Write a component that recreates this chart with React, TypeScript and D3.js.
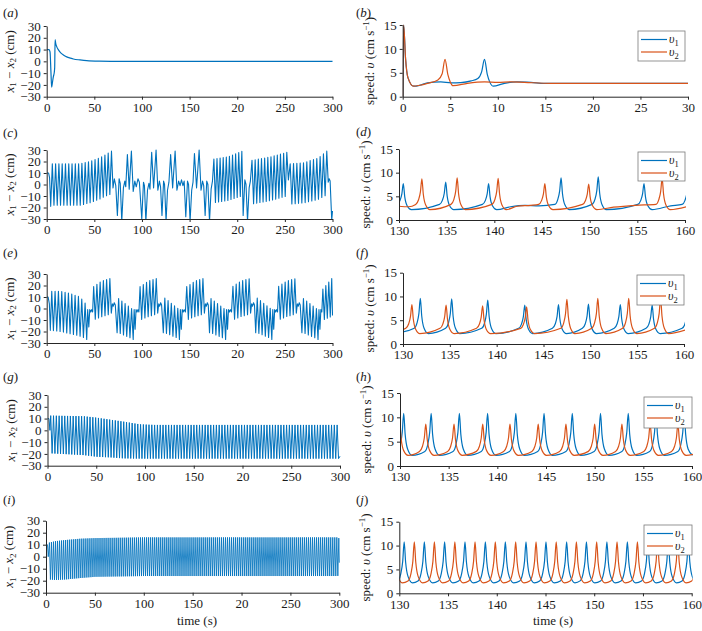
import { useEffect, useRef } from 'react'
import * as d3 from 'd3'

type Pt = [number, number]
type Burst = { start: number; cycles: number; period: number; kt: number[]; hi: number[]; lo: number[] }

const BLUE = '#0072bd'
const ORANGE = '#d95319'
const FONT = "'Liberation Serif', 'Times New Roman', serif"

// ticks
const dispTicks = [-30, -20, -10, 0, 10, 20, 30]
const longTimeTicks = [0, 50, 100, 150, 200, 250, 300]
const longTimeLabels = ['0', '50', '100', '150', '20', '250', '300'] // "20" as printed in the figure
const speedTicks = [0, 5, 10, 15]
const shortTimeTicks = [0, 5, 10, 15, 20, 25, 30]
const windowTicks = [130, 135, 140, 145, 150, 155, 160]

// (a) x1 - x2, decays to zero
const aPts: Pt[] = [[0, 10], [2.5, 10], [3.5, 8], [4.5, -10], [5.2, -22], [6, -18], [7, -13], [8, -9], [8.4, -5], [8.8, 18.5], [9.5, 15], [10.5, 12.5], [12.5, 9.5], [15, 7], [17.5, 5.4], [21, 3.8], [25, 2.7], [28, 2], [35, 1.2], [42, 0.6], [55, 0.2], [80, 0], [300, 0]]

// (b) speeds 0-30 s
const bV1: Pt[] = [[0, 0], [0.1, 15], [0.3, 8], [0.55, 4], [1.15, 2.2], [1.8, 2.4], [2.6, 2.9], [4, 3.1], [5.1, 2.9], [6.1, 2.95], [7.2, 3.3], [7.9, 3.8], [8.3, 5.2], [8.6, 7.8], [8.9, 4.6], [9.15, 3.1], [9.5, 2.2], [10.7, 2.8], [12, 3.1], [13.5, 3.0], [14.9, 2.8], [20, 2.8], [30, 2.8]]
const bV2: Pt[] = [[0, 0], [0.1, 15], [0.3, 8], [0.55, 4], [1.15, 2.2], [1.8, 2.4], [2.6, 2.8], [3.7, 3.5], [4.15, 4.8], [4.45, 7.8], [4.75, 4.6], [5.0, 3.1], [5.3, 2.3], [6.8, 2.8], [8.6, 3.1], [10, 3.0], [11.4, 3.1], [12.8, 3.0], [15.6, 2.8], [20, 2.8], [30, 2.8]]

// (c) irregular bursting
const cPts: Pt[] = [
  [0, 10], [2, 10], [3, 6], [4.2, -19],
  [69.6, -3], [71, 5], [72.5, -1], [74.2, -27], [76, 5], [77.2, 1], [78.8, -32], [80.5, -3], [82, 3], [83, -2], [84.7, 26], [86.6, -4], [88.9, 29], [90.8, -6], [92.5, 3], [94, -2], [95.8, 5], [97.3, 2], [99.8, -30], [101.6, 2], [102.6, -1], [104.1, -32], [105.8, -5], [107.3, 1], [108.4, -4], [110.2, 28], [112.2, -3], [114.8, 30], [116.7, -5], [118.3, 3], [119.5, -2], [121, -27], [122.7, 3], [123.7, 0], [125.3, -32], [126.8, -5], [128.3, 2], [130.1, 26], [132.2, -3], [134.8, 29], [136.7, -5], [138.5, 3], [140, -1], [141.5, 4], [143, -1], [144.3, 3], [146, -28], [147.8, 3], [148.9, 0], [150.5, -32], [152.2, -5], [153.6, 2], [155.1, 27], [157.3, -3], [160, 30], [162, -5], [163.6, 3], [164.8, -1], [166.3, -27], [168, 3], [169.2, 0], [170.9, -32], [172.6, -4], [174, 3],
  [206.2, -27], [208, 4], [209.2, 0], [210.8, -32], [212.5, -3], [213.8, 3],
  [253.7, 4],
  [295.5, 2], [296.5, 5], [297.5, 3], [299.2, -31], [300, -23],
]
const cBursts: Burst[] = [
  { start: 5.9, cycles: 19, period: 3.45, kt: [5, 35, 45, 55, 62, 68], hi: [18, 18, 20, 23, 26, 29], lo: [-18, -18, -16, -13, -10, -8] },
  { start: 175.5, cycles: 10, period: 3.26, kt: [175, 190, 205], hi: [22, 24, 29], lo: [-16, -14, -10] },
  { start: 215.5, cycles: 12, period: 3.32, kt: [215, 235, 252], hi: [21, 24, 28], lo: [-17, -14, -10] },
  { start: 255.6, cycles: 12, period: 3.49, kt: [255, 270, 285, 294], hi: [18, 19, 23, 29], lo: [-17, -16, -13, -9] },
]

// (e) alternating up / down bursts
const ePts: Pt[] = [
  [0, 10], [1.5, 10], [2.8, 4], [3.8, -19],
  [42, -27], [43, -1], [44.2, -16], [45.2, -1], [46.2, -3], [47.2, -1], [48.2, -3],
  [67.8, -4], [68.9, 4], [69.9, 2], [70.9, 5], [72, 3], [73.9, -21],
  [90.8, -27], [91.8, -1], [92.8, -18], [93.8, -1], [94.8, -3], [95.8, -1], [96.8, -3],
  [116.5, -4], [117.6, 4], [118.6, 2], [119.6, 5], [120.6, 3], [122.4, -21],
  [139.3, -27], [140.3, -1], [141.3, -18], [142.3, -1], [143.3, -3], [144.3, -1], [145.6, -3],
  [165.5, -4], [166.6, 4], [167.6, 2], [168.6, 5], [169.6, 3], [170.9, -21],
  [187.8, -27], [188.8, -1], [189.8, -18], [190.8, -1], [191.8, -3], [192.8, -1], [194, -3],
  [214, -4], [215.1, 4], [216.1, 2], [217.1, 5], [218.1, 3], [219.4, -21],
  [236.3, -27], [237.3, -1], [238.3, -18], [239.3, -1], [240.3, -3], [241.3, -1], [242.3, -3],
  [262, -4], [263.1, 4], [264.1, 2], [265.1, 5], [266.1, 3], [267.9, -21],
  [284.8, -27], [285.8, -1], [286.8, -18], [287.8, -1], [288.8, -3],
  [300, -6],
]
const eBursts: Burst[] = [
  { start: 5.3, cycles: 11, period: 3.5, kt: [5, 15, 25, 35, 41], hi: [15, 15, 13, 10, 4], lo: [-19, -20, -22, -24, -26] },
  { start: 49.3, cycles: 6, period: 3.4, kt: [49, 58, 66], hi: [19, 24, 26], lo: [-10, -7, -5] },
  { start: 75.5, cycles: 5, period: 3.4, kt: [75, 89], hi: [9, 0], lo: [-21, -26] },
  { start: 98, cycles: 6, period: 3.4, kt: [98, 107, 115], hi: [19, 24, 26], lo: [-10, -7, -5] },
  { start: 124, cycles: 5, period: 3.4, kt: [124, 138], hi: [9, 0], lo: [-21, -26] },
  { start: 147, cycles: 6, period: 3.4, kt: [147, 156, 164], hi: [19, 24, 26], lo: [-10, -7, -5] },
  { start: 172.5, cycles: 5, period: 3.4, kt: [172, 186], hi: [9, 0], lo: [-21, -26] },
  { start: 195.5, cycles: 6, period: 3.4, kt: [195, 204, 213], hi: [19, 24, 26], lo: [-10, -7, -5] },
  { start: 221, cycles: 5, period: 3.4, kt: [221, 235], hi: [9, 0], lo: [-21, -26] },
  { start: 243.5, cycles: 6, period: 3.4, kt: [243, 252, 261], hi: [19, 24, 26], lo: [-10, -7, -5] },
  { start: 269.5, cycles: 5, period: 3.4, kt: [269, 283], hi: [9, 0], lo: [-21, -26] },
  { start: 289.9, cycles: 4, period: 3.1, kt: [290, 299], hi: [17, 26], lo: [-10, -7] },
]

// (g) steady oscillation, envelope
const gPts: Pt[] = [[0, 10], [1.5, 10], [2.5, 0], [298.5, -24], [300, -22]]
const gBursts: Burst[] = [
  { start: 3.3, cycles: 103, period: 2.88, kt: [3, 37, 50, 65, 78, 95, 110, 300], hi: [12.5, 12, 10.8, 9, 7.4, 5.1, 4.6, 4.6], lo: [-19.5, -21, -22.4, -23, -23.8, -24, -24, -24] },
]

// (i) steady oscillation
const iPts: Pt[] = [[0, 10], [1.5, 10], [2.3, 0], [298.5, -16], [299.5, 15.5], [300, -5]]
const iBursts: Burst[] = [
  { start: 3.5, cycles: 143, period: 2.07, kt: [3, 10, 20, 35, 50, 100, 300], hi: [11.7, 13, 13.9, 15, 15.5, 16.1, 16.1], lo: [-19, -19.4, -19, -17.8, -16.8, -16.1, -16.1] },
]

// speed windows 130-160 s: peak times and heights
const dV1Peaks = [130.45, 134.9, 139.4, 147.0, 150.9, 155.7, 160.35]
const dV1Heights = [7.7, 8.0, 7.7, 8.9, 9.1, 7.7, 8.0]
const dV1Extra: Pt[] = [[128.5, 2.4], [141.7, 2.8], [143.2, 3.1], [144.7, 3.0], [158.5, 3.0]]
const dV2Peaks = [132.4, 136.1, 140.4, 145.3, 149.9, 157.6]
const dV2Heights = [8.7, 8.9, 8.8, 7.7, 7.6, 8.8]
const dV2Extra: Pt[] = [[129.5, 3.0], [131.0, 2.8], [142.4, 2.9], [143.8, 3.1], [152.5, 2.7], [154.8, 3.1], [160.3, 2.9]]

const fV1Peaks = [131.85, 135.2, 139.05, 143.0, 146.6, 149.8, 153.2, 156.6, 160.45]
const fV1Heights = [9.6, 9.5, 9.25, 8.2, 8.3, 8.4, 8.3, 8.2, 8.5]
const fV1Extra: Pt[] = [[129.3, 2.3]]
const fV2Peaks = [130.95, 134.6, 138.5, 143.2, 147.5, 150.8, 154.1, 157.5]
const fV2Heights = [8.3, 8.2, 8.0, 7.8, 9.4, 9.6, 9.6, 9.6]
const fV2Extra: Pt[] = [[129.5, 2.8], [160.4, 3.1]]

const hV1Peaks = [130.38, 133.2, 136.1, 139.0, 141.9, 144.8, 147.7, 150.6, 153.45, 156.3, 159.2]
const hV1Heights = [10.8, 10.8, 10.8, 10.8, 10.8, 10.8, 10.8, 10.8, 10.8, 10.8, 10.8]
const hV2Peaks = [129.98, 132.65, 135.55, 138.5, 141.3, 144.2, 147.05, 150.0, 152.8, 155.7, 158.55]
const hV2Heights = [8.6, 8.6, 8.6, 8.6, 8.6, 8.6, 8.6, 8.6, 8.6, 8.6, 8.6]
const hV2Extra: Pt[] = [[160.5, 2.6]]

const jV1Peaks = [130.5, 132.57, 134.65, 136.74, 138.83, 140.88, 143.0, 145.05, 147.17, 149.2, 151.3, 153.4, 155.5, 157.6, 159.66]
const jV1Heights = [10.8, 10.8, 10.8, 10.8, 10.8, 10.8, 10.8, 10.8, 10.8, 10.8, 10.8, 10.8, 10.8, 10.8, 10.8]
const jV2Peaks = [129.46, 131.54, 133.6, 135.7, 137.77, 139.85, 141.94, 144.03, 146.1, 148.17, 150.25, 152.34, 154.43, 156.5, 158.57, 160.65]
const jV2Heights = [10.8, 10.8, 10.8, 10.8, 10.8, 10.8, 10.8, 10.8, 10.8, 10.8, 10.8, 10.8, 10.8, 10.8, 10.8, 10.8]

// oscillation burst -> alternating peak / trough points
function burstPoints(b: Burst): Pt[] {
  const hiAt = d3.scaleLinear(b.kt, b.hi).clamp(true)
  const loAt = d3.scaleLinear(b.kt, b.lo).clamp(true)
  const pts: Pt[] = []
  for (let i = 0; i < b.cycles; i++) {
    const tp = b.start + i * b.period
    pts.push([tp, hiAt(tp)])
    if (i < b.cycles - 1) {
      const tl = tp + b.period / 2
      pts.push([tl, loAt(tl)])
    }
  }
  return pts
}

function withBursts(explicit: Pt[], bursts: Burst[]): Pt[] {
  return [...explicit, ...bursts.flatMap(burstPoints)].sort((a, b) => a[0] - b[0])
}

// speed spikes: sharp rise to the read peak, fast fall to the trough level
function spikes(peaks: number[], heights: number[], extra: Pt[], pre: number, low: number): Pt[] {
  const pts: Pt[] = [...extra]
  peaks.forEach((tp, i) => {
    const h = heights[i]
    pts.push(
      [tp - 0.65, pre], [tp - 0.35, pre + (h - pre) * 0.18], [tp - 0.15, pre + (h - pre) * 0.5], [tp, h],
      [tp + 0.15, low + (h - low) * 0.5], [tp + 0.4, low + (h - low) * 0.15], [tp + 0.85, low],
    )
  })
  return pts.sort((a, b) => a[0] - b[0])
}

type Series = { pts: Pt[]; color: string; width: number; curve: d3.CurveFactory }
type Panel = {
  id: string; x0: number; x1: number; y0: number; y1: number
  xDomain: [number, number]; yDomain: [number, number]
  xTicks: number[]; xLabels?: string[]; yTicks: number[]
  series: Series[]; label: [number, number]; legend?: { x: number; y: number; w: number; h: number }
  kind: 'disp' | 'speed'; xTitle?: number
}

function drawPanel(svg: d3.Selection<SVGSVGElement, unknown, null, undefined>, p: Panel) {
  const x = d3.scaleLinear(p.xDomain, [p.x0, p.x1])
  const y = d3.scaleLinear(p.yDomain, [p.y1, p.y0])
  const clipId = 'clip-' + p.id
  svg.append('clipPath').attr('id', clipId)
    .append('rect').attr('x', p.x0).attr('y', p.y0 - 1).attr('width', p.x1 - p.x0 + 1).attr('height', p.y1 - p.y0 + 1)

  const g = svg.append('g')
  p.series.forEach(s => {
    const line = d3.line<Pt>().x(d => x(d[0])).y(d => y(d[1])).curve(s.curve)
    g.append('path')
      .attr('clip-path', `url(#${clipId})`)
      .attr('d', line(s.pts))
      .attr('fill', 'none')
      .attr('stroke', s.color)
      .attr('stroke-width', s.width)
      .attr('stroke-linejoin', 'round')
  })

  const xAxis = g.append('g').attr('transform', `translate(0,${p.y1})`)
    .call(d3.axisBottom(x).tickValues(p.xTicks)
      .tickFormat((d, i) => (p.xLabels ? p.xLabels[i] : String(d)))
      .tickSize(3).tickSizeOuter(0).tickPadding(3))
  const yAxis = g.append('g').attr('transform', `translate(${p.x0},0)`)
    .call(d3.axisLeft(y).tickValues(p.yTicks).tickFormat(d3.format('d'))
      .tickSize(3).tickSizeOuter(0).tickPadding(3))
  ;[xAxis, yAxis].forEach(a => {
    a.attr('font-family', null).attr('font-size', null)
    a.selectAll('path, line').attr('stroke', '#262626')
    a.selectAll('text').attr('fill', '#1a1a1a').style('font-family', FONT).style('font-size', '13px')
  })

  // legend
  if (p.legend) {
    const L = p.legend
    const lg = g.append('g')
    lg.append('rect').attr('x', L.x).attr('y', L.y).attr('width', L.w).attr('height', L.h)
      .attr('fill', '#fff').attr('stroke', '#7a7a7a').attr('stroke-width', 0.8)
    ;[BLUE, ORANGE].forEach((c, i) => {
      const yy = L.y + 8.5 + i * 12.5
      lg.append('line').attr('x1', L.x + 3).attr('x2', L.x + 29).attr('y1', yy).attr('y2', yy)
        .attr('stroke', c).attr('stroke-width', 1.2)
      const t = lg.append('text').attr('x', L.x + 31).attr('y', yy + 3.5)
        .style('font-family', FONT).style('font-size', '12px').attr('fill', '#1a1a1a')
      t.append('tspan').attr('font-style', 'italic').text('υ')
      t.append('tspan').style('font-size', '8.5px').attr('dy', 3).text(String(i + 1))
    })
  }

  // panel label
  const lab = svg.append('text').attr('x', p.label[0]).attr('y', p.label[1])
    .style('font-family', FONT).style('font-size', '13px').attr('fill', '#1a1a1a')
  lab.append('tspan').text('(')
  lab.append('tspan').attr('font-style', 'italic').text(p.id)
  lab.append('tspan').text(')')

  // y title
  const cy = (p.y0 + p.y1) / 2
  if (p.kind === 'disp') {
    const t = svg.append('text').attr('transform', `translate(${p.x0 - 33},${cy}) rotate(-90)`)
      .attr('text-anchor', 'middle').style('font-family', FONT).style('font-size', '13px').attr('fill', '#1a1a1a')
    t.append('tspan').attr('font-style', 'italic').text('x')
    t.append('tspan').style('font-size', '9px').attr('dy', 2.5).text('1')
    t.append('tspan').attr('dy', -2.5).text(' − ')
    t.append('tspan').attr('font-style', 'italic').text('x')
    t.append('tspan').style('font-size', '9px').attr('dy', 2.5).text('2')
    t.append('tspan').attr('dy', -2.5).text(' (cm)')
  } else {
    const t = svg.append('text').attr('transform', `translate(${p.x0 - 29},${cy}) rotate(-90)`)
      .attr('text-anchor', 'middle').style('font-family', FONT).style('font-size', '13px').attr('fill', '#1a1a1a')
    t.append('tspan').text('speed: ')
    t.append('tspan').attr('font-style', 'italic').text('υ')
    t.append('tspan').text(' (cm s')
    t.append('tspan').style('font-size', '9px').attr('dy', -5).text('−1')
    t.append('tspan').attr('dy', 5).text(')')
  }

  if (p.xTitle !== undefined) {
    svg.append('text').attr('x', p.xTitle).attr('y', p.y1 + 32)
      .attr('text-anchor', 'middle').style('font-family', FONT).style('font-size', '13px').attr('fill', '#1a1a1a')
      .text('time (s)')
  }
}

export default function App() {
  const ref = useRef<SVGSVGElement>(null)

  useEffect(() => {
    document.body.style.margin = '0'
    const svg = d3.select(ref.current as SVGSVGElement)
    svg.selectAll('*').remove()

    const lin = d3.curveLinear
    const mono = d3.curveMonotoneX
    const disp = (pts: Pt[], w = 1.1, curve = lin): Series[] => [{ pts, color: BLUE, width: w, curve }]
    const speed = (v1: Pt[], v2: Pt[]): Series[] => [
      { pts: v1, color: BLUE, width: 1.2, curve: mono },
      { pts: v2, color: ORANGE, width: 1.2, curve: mono },
    ]
    const left = { xDomain: [0, 300] as [number, number], yDomain: [-30, 30] as [number, number], xTicks: longTimeTicks, xLabels: longTimeLabels, yTicks: dispTicks, kind: 'disp' as const }
    const right = { xDomain: [130, 160] as [number, number], yDomain: [0, 15] as [number, number], xTicks: windowTicks, yTicks: speedTicks, kind: 'speed' as const }

    const panels: Panel[] = [
      { ...left, id: 'a', x0: 46.7, x1: 332.5, y0: 26, y1: 96.7, label: [3, 17], series: disp(aPts, 1.2, mono) },
      { ...right, id: 'b', xDomain: [0, 30], xTicks: shortTimeTicks, x0: 402.7, x1: 688, y0: 25, y1: 96.7, label: [356, 17],
        legend: { x: 638, y: 31, w: 47, h: 30 }, series: speed(bV1, bV2) },
      { ...left, id: 'c', x0: 46.7, x1: 332.5, y0: 150, y1: 219, label: [3, 137], series: disp(withBursts(cPts, cBursts)) },
      { ...right, id: 'd', x0: 399, x1: 685, y0: 149, y1: 220, label: [356, 136],
        legend: { x: 638, y: 152, w: 47, h: 29 },
        series: speed(spikes(dV1Peaks, dV1Heights, dV1Extra, 3.3, 2.2), spikes(dV2Peaks, dV2Heights, dV2Extra, 3.3, 2.2)) },
      { ...left, id: 'e', x0: 46.7, x1: 332.5, y0: 274, y1: 343, label: [3, 257], series: disp(withBursts(ePts, eBursts)) },
      { ...right, id: 'f', x0: 403, x1: 684, y0: 272.7, y1: 344, label: [356, 257],
        legend: { x: 637, y: 275, w: 47, h: 30 },
        series: speed(spikes(fV1Peaks, fV1Heights, fV1Extra, 3.3, 2.2), spikes(fV2Peaks, fV2Heights, fV2Extra, 3.3, 2.2)) },
      { ...left, id: 'g', x0: 47.5, x1: 340, y0: 395, y1: 465.7, label: [3, 381], series: disp(withBursts(gPts, gBursts), 1) },
      { ...right, id: 'h', x0: 400, x1: 692, y0: 393, y1: 466, label: [356, 381],
        legend: { x: 644, y: 397, w: 48, h: 31 },
        series: speed(spikes(hV1Peaks, hV1Heights, [], 3.0, 2.2), spikes(hV2Peaks, hV2Heights, hV2Extra, 3.0, 2.2)) },
      { ...left, id: 'i', x0: 46, x1: 339.3, y0: 520.7, y1: 592.7, label: [3, 504], xTitle: 197, series: disp(withBursts(iPts, iBursts), 0.85) },
      { ...right, id: 'j', x0: 399.3, x1: 691.7, y0: 521.7, y1: 593.3, label: [356, 504], xTitle: 553,
        legend: { x: 644, y: 525, w: 48, h: 30 },
        series: speed(spikes(jV1Peaks, jV1Heights, [], 2.6, 2.2), spikes(jV2Peaks, jV2Heights, [], 2.6, 2.2)) },
    ]
    panels.forEach(p => drawPanel(svg, p))
  }, [])

  return <svg ref={ref} width={702} height={631} style={{ display: 'block', background: '#fff' }} />
}
